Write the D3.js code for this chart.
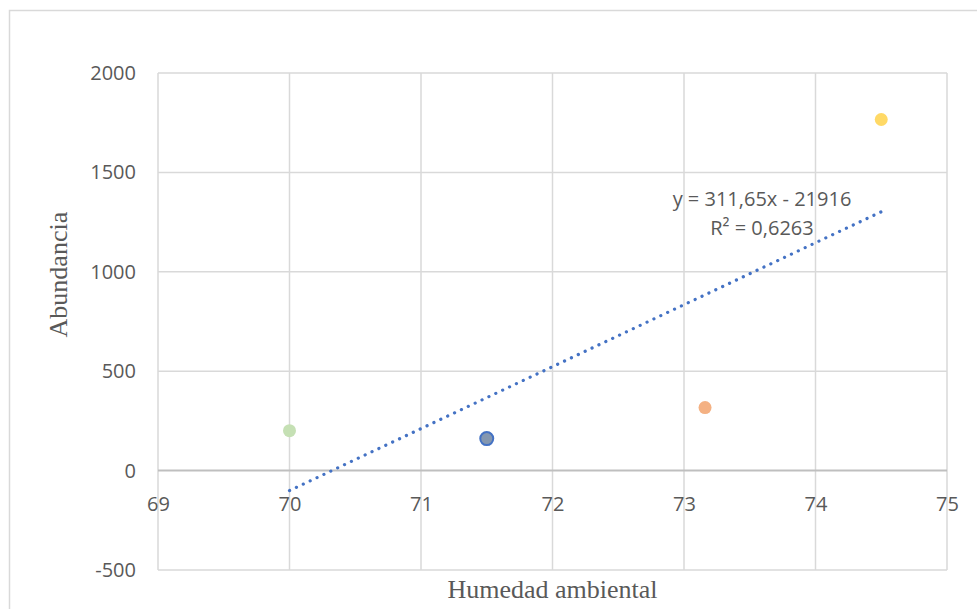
<!DOCTYPE html>
<html lang="es">
<head>
<meta charset="UTF-8">
<title>Abundancia vs Humedad ambiental</title>
<script src="https://cdn.jsdelivr.net/npm/d3@7"></script>
<style>
  body { margin: 0; background: #fff; }
  .tick text { font-family: "Open Sans", "Liberation Sans", sans-serif; font-size: 20px; fill: #595959; }
</style>
</head>
<body>
<script>
// datos
const humedad = [70, 71.5, 73.16, 74.5];
const abundancia = [201, 161, 317, 1766];
const colores = ["#c5e0b4", "#8497b0", "#f4b183", "#ffd966"];
const bordes = ["none", "#4472c4", "none", "none"];
const xTicks = [69, 70, 71, 72, 73, 74, 75];
const yTicks = [-500, 0, 500, 1000, 1500, 2000];
const tendencia = [311.65, -21916]; // pendiente, intercepto
const etiquetas = ["y = 311,65x - 21916", "R² = 0,6263"];

const W = 977, H = 609;
const m = { left: 158, right: 30, top: 73, bottom: 39 };

const svg = d3.select("body").append("svg")
  .attr("width", W).attr("height", H);

// marco del gráfico
svg.append("rect")
  .attr("x", 9.5).attr("y", 10.5)
  .attr("width", W + 20).attr("height", H + 20)
  .attr("fill", "none").attr("stroke", "#d9d9d9").attr("stroke-width", 1.5);

const x = d3.scaleLinear().domain([69, 75]).range([m.left, W - m.right]);
const y = d3.scaleLinear().domain([-500, 2000]).range([H - m.bottom, m.top]);

// rejilla
svg.append("g").selectAll("line").data(xTicks).enter().append("line")
  .attr("x1", d => x(d)).attr("x2", d => x(d))
  .attr("y1", y(2000)).attr("y2", y(-500))
  .attr("stroke", "#d9d9d9").attr("stroke-width", 1.5);
svg.append("g").selectAll("line").data(yTicks).enter().append("line")
  .attr("x1", x(69)).attr("x2", x(75))
  .attr("y1", d => y(d)).attr("y2", d => y(d))
  .attr("stroke", d => d === 0 ? "#bfbfbf" : "#d9d9d9")
  .attr("stroke-width", d => d === 0 ? 2 : 1.5);

// ejes (solo etiquetas)
const fmt = d => String(d);
const ejeY = svg.append("g")
  .attr("transform", `translate(${m.left},0)`)
  .call(d3.axisLeft(y).tickValues(yTicks).tickFormat(fmt).tickSize(0).tickPadding(22));
ejeY.select(".domain").remove();

const ejeX = svg.append("g")
  .attr("transform", `translate(0,${y(0)})`)
  .call(d3.axisBottom(x).tickValues(xTicks).tickFormat(fmt).tickSize(0).tickPadding(26));
ejeX.select(".domain").remove();

// línea de tendencia
const xs = d3.extent(humedad);
svg.append("line")
  .attr("x1", x(xs[0])).attr("y1", y(tendencia[0] * xs[0] + tendencia[1]))
  .attr("x2", x(xs[1])).attr("y2", y(tendencia[0] * xs[1] + tendencia[1]))
  .attr("stroke", "#4472c4").attr("stroke-width", 3.2)
  .attr("stroke-linecap", "round").attr("stroke-dasharray", "0.1 7.5");

// puntos
svg.append("g").selectAll("circle").data(humedad).enter().append("circle")
  .attr("cx", d => x(d))
  .attr("cy", (d, i) => y(abundancia[i]))
  .attr("r", (d, i) => bordes[i] === "none" ? 6.5 : 6.5)
  .attr("fill", (d, i) => colores[i])
  .attr("stroke", (d, i) => bordes[i])
  .attr("stroke-width", 2);

// ecuación
svg.append("g").selectAll("text").data(etiquetas).enter().append("text")
  .attr("x", 762)
  .attr("y", (d, i) => 206 + i * 29)
  .attr("text-anchor", "middle")
  .style("font-family", "'Open Sans', 'Liberation Sans', sans-serif")
  .style("font-size", "20px").style("fill", "#595959")
  .text(d => d);

// títulos de ejes
svg.append("text")
  .attr("x", x(72)).attr("y", 598)
  .attr("text-anchor", "middle")
  .style("font-family", "'Liberation Serif', 'Times New Roman', serif")
  .style("font-size", "26px").style("fill", "#595959")
  .text("Humedad ambiental");

svg.append("text")
  .attr("transform", `translate(67,${y(0) - 196}) rotate(-90)`)
  .attr("text-anchor", "middle")
  .style("font-family", "'Liberation Serif', 'Times New Roman', serif")
  .style("font-size", "26px").style("fill", "#595959")
  .text("Abundancia");
</script>
</body>
</html>
